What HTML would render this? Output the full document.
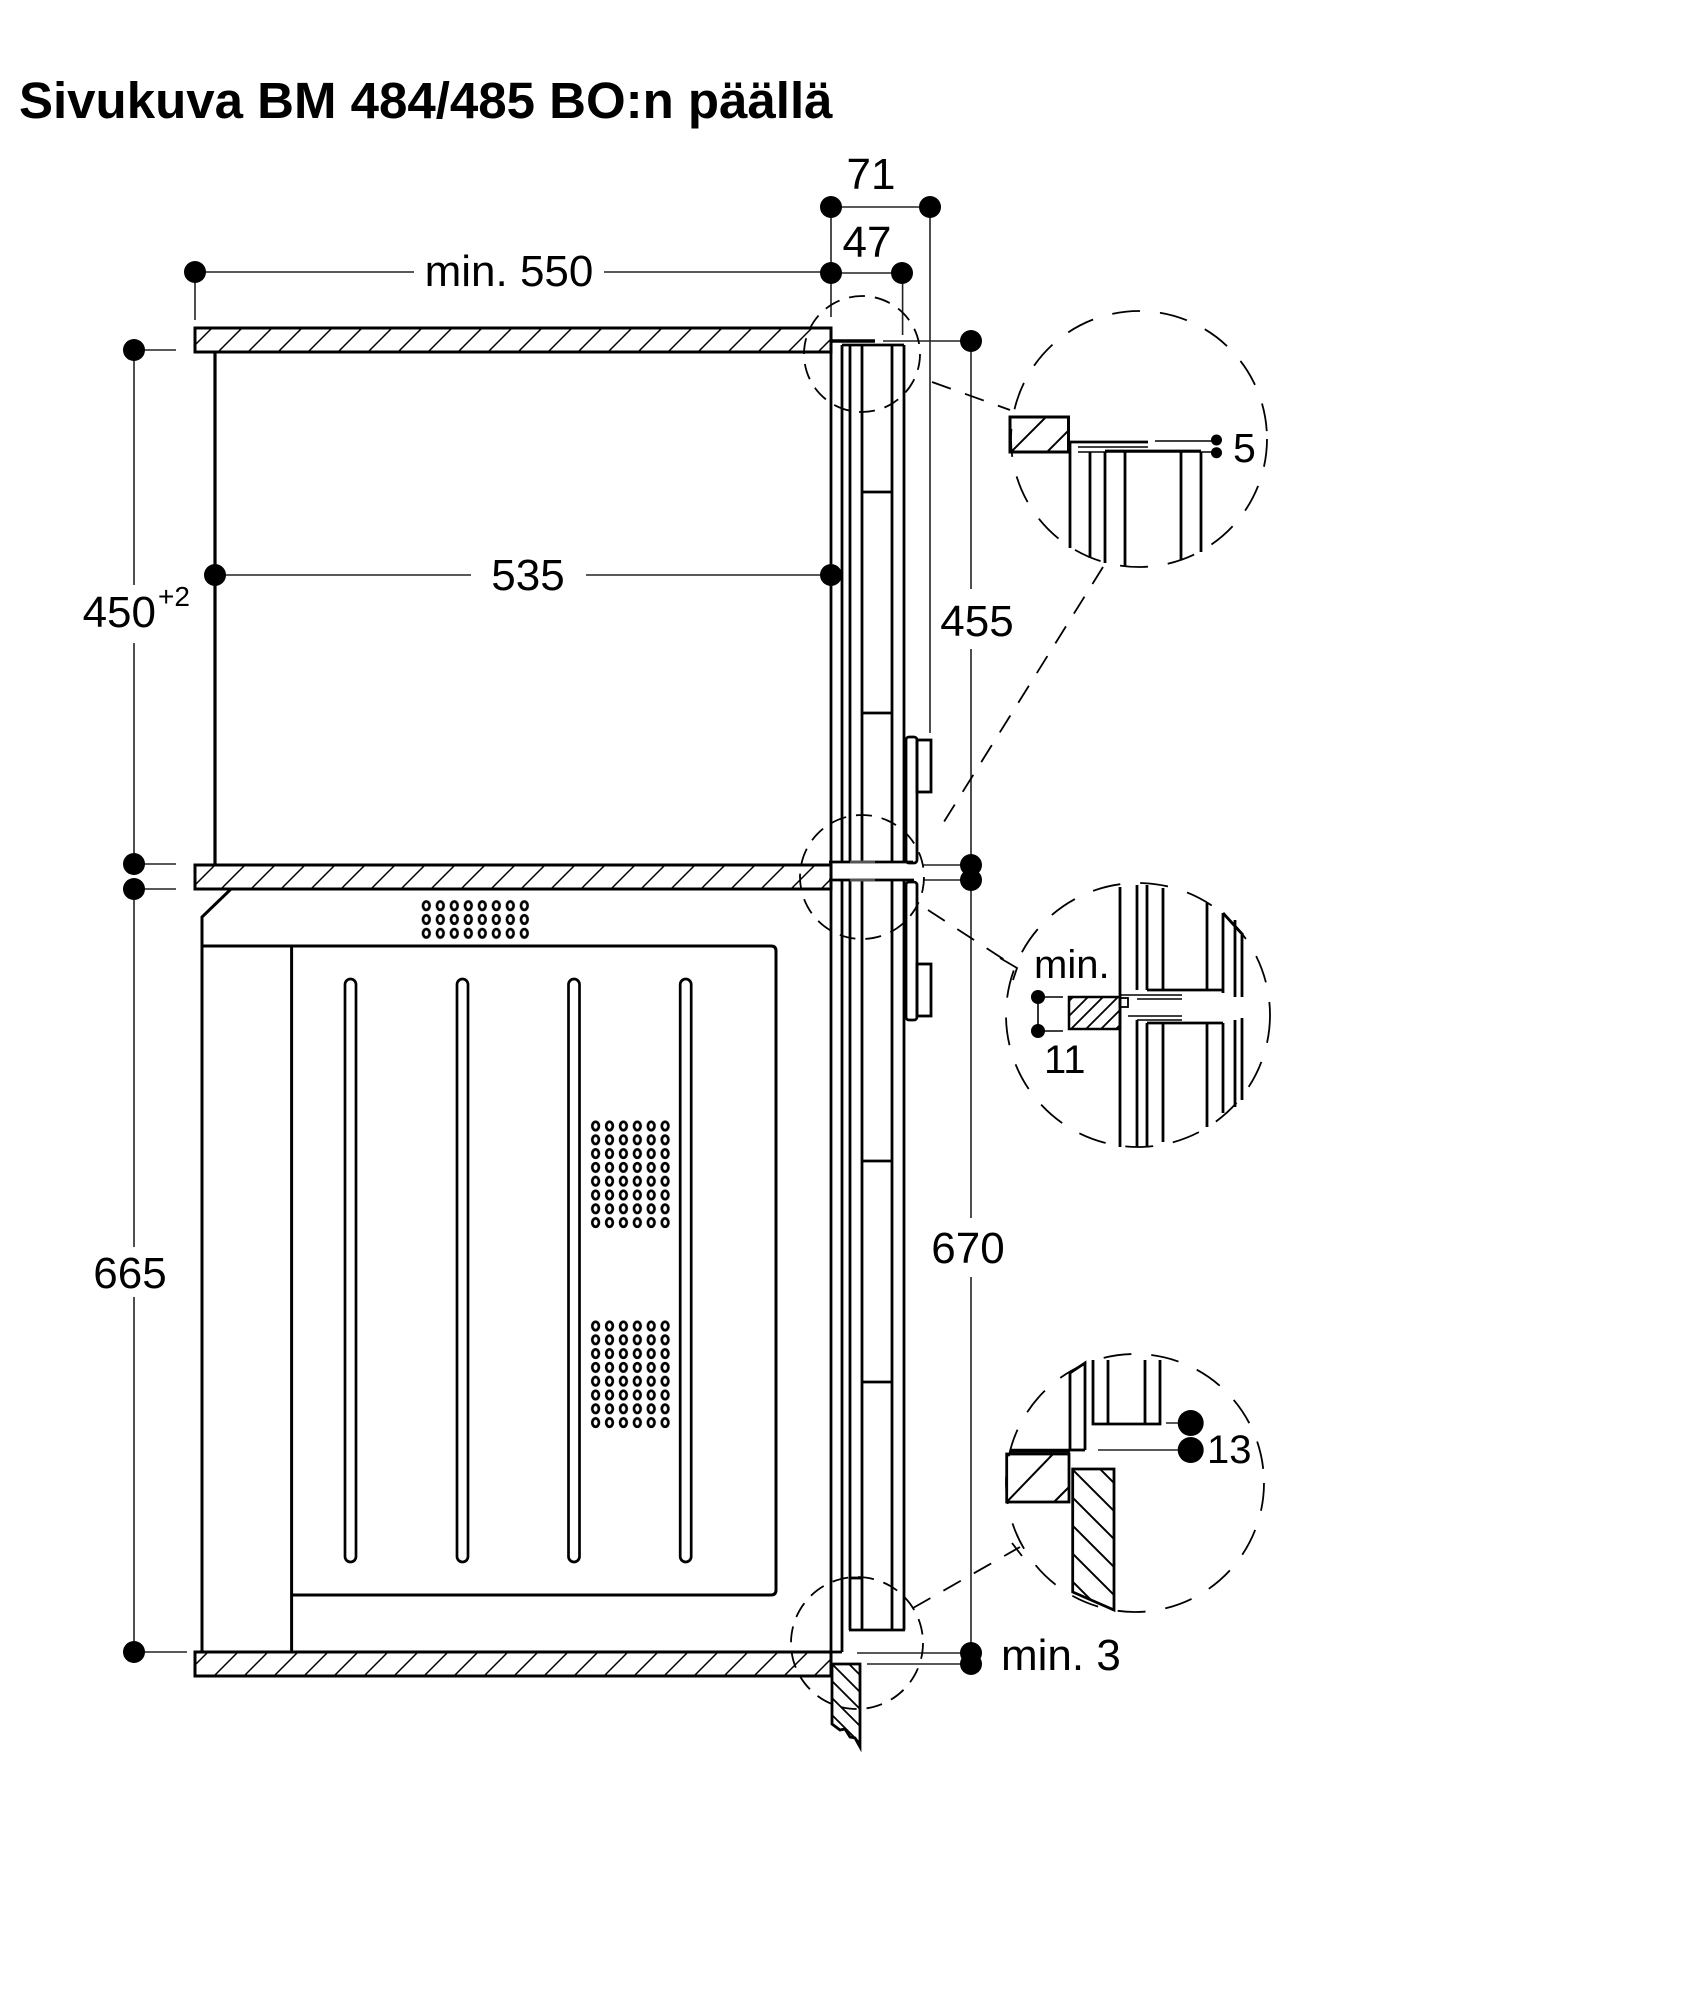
<!DOCTYPE html>
<html><head><meta charset="utf-8"><style>html,body{margin:0;padding:0;background:#fff;width:1684px;height:2000px;overflow:hidden}</style></head>
<body>
<svg xmlns="http://www.w3.org/2000/svg" width="1684" height="2000" viewBox="0 0 1684 2000" font-family="'Liberation Sans', Arial, sans-serif">
<defs>
<pattern id="hs" patternUnits="userSpaceOnUse" width="30" height="30"><path d="M0,30L30,0M-5,5L5,-5M25,35L35,25" stroke="#000" stroke-width="1.5"/></pattern>
<pattern id="hd1" patternUnits="userSpaceOnUse" width="36" height="36" x="1010" y="417"><path d="M0,36L36,0M-5,5L5,-5M31,41L41,31" stroke="#000" stroke-width="2"/></pattern>
<pattern id="hd2" patternUnits="userSpaceOnUse" width="15" height="15"><path d="M0,15L15,0M-3,3L3,-3M12,18L18,12" stroke="#000" stroke-width="1.8"/></pattern>
<pattern id="bk1" patternUnits="userSpaceOnUse" width="28" height="28" x="1072" y="1469"><path d="M0,0L28,28M-5,23L5,33M23,-5L33,5" stroke="#000" stroke-width="2"/></pattern>
<pattern id="bk2" patternUnits="userSpaceOnUse" width="17" height="17" x="832" y="1664"><path d="M0,0L17,17M-4,13L4,21M13,-4L21,4" stroke="#000" stroke-width="1.8"/></pattern>
<pattern id="vent" patternUnits="userSpaceOnUse" x="419.3" y="898.8" width="14" height="13.8"><ellipse cx="7" cy="6.9" rx="3.3" ry="4.2" fill="none" stroke="#000" stroke-width="2.7"/></pattern>
<pattern id="g1" patternUnits="userSpaceOnUse" x="588.65" y="1119.1" width="13.9" height="13.8"><ellipse cx="6.95" cy="6.9" rx="3.3" ry="4.2" fill="none" stroke="#000" stroke-width="2.7"/></pattern>
<pattern id="g2" patternUnits="userSpaceOnUse" x="588.65" y="1319.1" width="13.9" height="13.8"><ellipse cx="6.95" cy="6.9" rx="3.3" ry="4.2" fill="none" stroke="#000" stroke-width="2.7"/></pattern>
</defs>

<!-- Title -->
<text x="19" y="118" font-size="51" font-weight="bold" fill="#000">Sivukuva BM 484/485 BO:n päällä</text>

<!-- dimension lines (thin) -->
<g stroke="#222" stroke-width="1.6" fill="none">
  <line x1="831" y1="207" x2="930" y2="207"/>
  <line x1="831" y1="273" x2="902" y2="273"/>
  <line x1="195" y1="272" x2="414" y2="272"/>
  <line x1="604" y1="272" x2="831" y2="272"/>
  <line x1="195" y1="272" x2="195" y2="320"/>
  <line x1="831" y1="207" x2="831" y2="317"/>
  <line x1="902.6" y1="273" x2="902.6" y2="335"/>
  <line x1="930" y1="207" x2="930" y2="733"/>
  <line x1="215" y1="575" x2="471" y2="575"/>
  <line x1="586" y1="575" x2="831" y2="575"/>
  <line x1="134" y1="350" x2="134" y2="585"/>
  <line x1="134" y1="643" x2="134" y2="864"/>
  <line x1="134" y1="350" x2="176" y2="350"/>
  <line x1="134" y1="864" x2="176" y2="864"/>
  <line x1="134" y1="889" x2="176" y2="889"/>
  <line x1="134" y1="889" x2="134" y2="1247"/>
  <line x1="134" y1="1297" x2="134" y2="1652"/>
  <line x1="134" y1="1652" x2="187" y2="1652"/>
  <line x1="883" y1="341" x2="971" y2="341"/>
  <line x1="971" y1="341" x2="971" y2="589"/>
  <line x1="971" y1="649" x2="971" y2="864"/>
  <line x1="923" y1="865" x2="971" y2="865"/>
  <line x1="923" y1="880" x2="971" y2="880"/>
  <line x1="971" y1="880" x2="971" y2="1218"/>
  <line x1="971" y1="1277" x2="971" y2="1653"/>
  <line x1="857" y1="1653" x2="971" y2="1653"/>
  <line x1="867" y1="1664" x2="971" y2="1664"/>
</g>

<!-- dots -->
<g fill="#000">
  <circle cx="831" cy="207" r="11"/><circle cx="930" cy="207" r="11"/>
  <circle cx="831" cy="273" r="11"/><circle cx="902" cy="273" r="11"/>
  <circle cx="195" cy="272" r="11"/>
  <circle cx="215" cy="575" r="11"/><circle cx="831" cy="575" r="11"/>
  <circle cx="134" cy="350" r="11"/><circle cx="134" cy="864" r="11"/>
  <circle cx="134" cy="889" r="11"/><circle cx="134" cy="1652" r="11"/>
  <circle cx="971" cy="341" r="11"/>
  <circle cx="971" cy="865" r="11"/><circle cx="971" cy="880" r="11"/>
  <circle cx="971" cy="1653" r="11"/><circle cx="971" cy="1664" r="11"/>
</g>

<!-- labels -->
<g font-size="44" fill="#000">
  <text x="871" y="189" text-anchor="middle">71</text>
  <text x="867" y="257" text-anchor="middle">47</text>
  <text x="509" y="286" text-anchor="middle">min. 550</text>
  <text x="528" y="590" text-anchor="middle">535</text>
  <text x="156" y="627" text-anchor="end">450</text>
  <text x="158" y="606" font-size="28">+2</text>
  <text x="977" y="636" text-anchor="middle">455</text>
  <text x="130" y="1288" text-anchor="middle">665</text>
  <text x="968" y="1263" text-anchor="middle">670</text>
  <text x="1001" y="1670">min. 3</text>
</g>

<!-- shelves -->
<g stroke="#000" stroke-width="3" fill="url(#hs)">
  <rect x="195" y="328" width="636" height="24"/>
  <rect x="195" y="865" width="636" height="24"/>
  <rect x="195" y="1652" width="636" height="24"/>
</g>

<!-- cabinet wall -->
<line x1="215" y1="352" x2="215" y2="865" stroke="#000" stroke-width="3.2"/>

<!-- oven -->
<g stroke="#000" stroke-width="3" fill="none">
  <polyline points="231,889 202,917 202,1652"/>
  <path d="M202,946 H771 Q776,946 776,951 V1590 Q776,1595 771,1595 H291.6"/>
  <line x1="291.6" y1="946" x2="291.6" y2="1652"/>
</g>
<rect x="419.3" y="898.8" width="112" height="41.4" fill="url(#vent)"/>
<rect x="588.65" y="1119.1" width="83.4" height="110.4" fill="url(#g1)"/>
<rect x="588.65" y="1319.1" width="83.4" height="110.4" fill="url(#g2)"/>
<g stroke="#000" stroke-width="2.7" fill="none">
  <rect x="345" y="979" width="11" height="583" rx="5.5"/>
  <rect x="457" y="979" width="11" height="583" rx="5.5"/>
  <rect x="568.5" y="979" width="11" height="583" rx="5.5"/>
  <rect x="680.2" y="979" width="11" height="583" rx="5.5"/>
</g>

<!-- front column -->
<g stroke="#000" stroke-width="2.8" fill="none">
  <line x1="831" y1="328" x2="831" y2="1676"/>
  <line x1="831" y1="341" x2="875" y2="341" stroke-width="3.5"/>
  <!-- upper panel -->
  <line x1="842" y1="345" x2="904" y2="345"/>
  <line x1="842" y1="345" x2="842" y2="862"/>
  <line x1="850" y1="345" x2="850" y2="862"/>
  <line x1="862" y1="345" x2="862" y2="862"/>
  <line x1="892" y1="345" x2="892" y2="862"/>
  <line x1="904" y1="345" x2="904" y2="862"/>
  <line x1="862" y1="492" x2="892" y2="492"/>
  <line x1="862" y1="713" x2="892" y2="713"/>
  <line x1="829" y1="862" x2="913" y2="862"/>
  <!-- lower panel -->
  <line x1="829" y1="880" x2="914" y2="880"/>
  <line x1="842" y1="880" x2="842" y2="1652"/>
  <line x1="850" y1="880" x2="850" y2="1630"/>
  <line x1="862" y1="880" x2="862" y2="1630"/>
  <line x1="892" y1="880" x2="892" y2="1630"/>
  <line x1="904" y1="880" x2="904" y2="1630"/>
  <line x1="849" y1="1630" x2="905" y2="1630"/>
  <line x1="862" y1="1161" x2="892" y2="1161"/>
  <line x1="862" y1="1382" x2="892" y2="1382"/>
  <line x1="849" y1="1578" x2="862" y2="1578"/>
  <line x1="831" y1="1652" x2="842" y2="1652"/>
  <!-- knobs -->
  <rect x="906" y="737" width="11" height="126" rx="3"/>
  <rect x="917" y="740" width="14" height="52"/>
  <rect x="906" y="882" width="11" height="138" rx="3"/>
  <rect x="917" y="964" width="14" height="52"/>
</g>
<line x1="850" y1="862" x2="875" y2="862" stroke="#555" stroke-width="3"/>
<line x1="850" y1="880" x2="875" y2="880" stroke="#555" stroke-width="3"/>

<!-- plinth -->
<polygon points="832,1664 860,1664 860,1747 855,1738 850,1737 845,1729 840,1730 832,1724" fill="url(#bk2)" stroke="#000" stroke-width="2.8"/>

<!-- dashed circles and leaders -->
<g stroke="#000" stroke-width="1.8" fill="none">
  <circle cx="862" cy="354" r="58" stroke-dasharray="16 10"/>
  <circle cx="862" cy="877" r="62" stroke-dasharray="16 10"/>
  <circle cx="857" cy="1643" r="66" stroke-dasharray="16 10"/>
  <circle cx="1139" cy="439" r="128" stroke-dasharray="28 20"/>
  <circle cx="1138" cy="1015" r="132" stroke-dasharray="28 20"/>
  <circle cx="1135" cy="1483" r="129" stroke-dasharray="28 20"/>
  <line x1="932" y1="382" x2="1010" y2="410" stroke-dasharray="20 15"/>
  <line x1="1103" y1="567" x2="937" y2="833" stroke-dasharray="20 15"/>
  <line x1="928" y1="910" x2="1017" y2="968" stroke-dasharray="20 15"/>
  <polyline points="1000,958 1017,968 1013,980"/>
  <line x1="913" y1="1608" x2="1020" y2="1547" stroke-dasharray="20 15"/>
  <line x1="1012" y1="1543" x2="1022" y2="1556"/>
</g>

<!-- top detail -->
<rect x="1010" y="417" width="58.5" height="35" fill="url(#hd1)" stroke="#000" stroke-width="3"/>
<g stroke="#000" stroke-width="2.8" fill="none">
  <line x1="1068" y1="442" x2="1148" y2="442"/>
  <line x1="1078" y1="447" x2="1148" y2="447" stroke-width="1.5"/>
  <line x1="1155" y1="441" x2="1216" y2="441" stroke-width="1.6"/>
  <line x1="1078" y1="452" x2="1216" y2="452" stroke-width="1.6"/>
  <line x1="1105" y1="451" x2="1201" y2="451"/>
  <line x1="1070" y1="442" x2="1070" y2="548"/>
  <line x1="1090" y1="452" x2="1090" y2="558"/>
  <line x1="1105" y1="452" x2="1105" y2="563"/>
  <line x1="1125" y1="452" x2="1125" y2="567"/>
  <line x1="1181" y1="452" x2="1181" y2="560"/>
  <line x1="1201" y1="452" x2="1201" y2="552"/>
</g>
<circle cx="1216.5" cy="440" r="5.5"/><circle cx="1216.5" cy="452.7" r="5.5"/>
<text x="1233" y="462" font-size="41" fill="#000">5</text>

<!-- middle detail -->
<text x="1034" y="978" font-size="40" fill="#000">min.</text>
<text x="1044" y="1073" font-size="40" fill="#000">11</text>
<g stroke="#000" stroke-width="1.6"><line x1="1038" y1="997" x2="1038" y2="1031"/><line x1="1038" y1="997" x2="1063" y2="997"/><line x1="1038" y1="1031" x2="1063" y2="1031"/></g>
<circle cx="1038" cy="997" r="7"/><circle cx="1038" cy="1031" r="7"/>
<rect x="1069" y="997" width="51" height="32" fill="url(#hd2)" stroke="#000" stroke-width="2.5"/>
<g stroke="#000" stroke-width="2.8" fill="none">
  <line x1="1120" y1="887" x2="1120" y2="1147"/>
  <line x1="1137" y1="885" x2="1137" y2="990"/>
  <line x1="1147" y1="885" x2="1147" y2="990"/>
  <line x1="1163" y1="888" x2="1163" y2="990"/>
  <line x1="1207" y1="903" x2="1207" y2="990"/>
  <line x1="1223" y1="913" x2="1223" y2="993"/>
  <line x1="1235" y1="920" x2="1235" y2="997"/>
  <line x1="1242" y1="935" x2="1242" y2="997"/>
  <line x1="1223" y1="913" x2="1243" y2="935"/>
  <line x1="1147" y1="990" x2="1223" y2="990"/>
  <line x1="1137" y1="1020" x2="1137" y2="1147"/>
  <line x1="1147" y1="1023" x2="1147" y2="1147"/>
  <line x1="1163" y1="1023" x2="1163" y2="1142"/>
  <line x1="1207" y1="1023" x2="1207" y2="1127"/>
  <line x1="1223" y1="1023" x2="1223" y2="1113"/>
  <line x1="1235" y1="1020" x2="1235" y2="1107"/>
  <line x1="1242" y1="1018" x2="1242" y2="1100"/>
  <line x1="1147" y1="1023" x2="1223" y2="1023"/>
  <rect x="1120" y="998" width="8" height="9" stroke-width="1.8"/>
</g>
<g stroke="#000" stroke-width="1.5">
  <line x1="1120" y1="995" x2="1182" y2="995"/><line x1="1137" y1="999" x2="1182" y2="999"/>
  <line x1="1128" y1="1016" x2="1182" y2="1016"/><line x1="1137" y1="1020" x2="1182" y2="1020"/>
</g>

<!-- bottom detail -->
<g stroke="#000" stroke-width="2.8" fill="none">
  <polyline points="1070,1450 1070,1373 1085,1363 1085,1450"/>
  <line x1="1070" y1="1450" x2="1085" y2="1450"/>
  <polyline points="1093,1360 1093,1424 1160,1424 1160,1360"/>
  <line x1="1108" y1="1360" x2="1108" y2="1424"/>
  <line x1="1145" y1="1360" x2="1145" y2="1424"/>
  <line x1="1010" y1="1450.7" x2="1070" y2="1450.7" stroke-width="4"/>
  <rect x="1006.7" y="1454" width="62.3" height="48"/>
  <line x1="1006.7" y1="1502" x2="1053" y2="1454" stroke-width="2"/>
  <line x1="1054" y1="1502" x2="1069" y2="1487" stroke-width="2"/>
</g>
<polygon points="1072.7,1469 1114,1469 1114,1610 1072.7,1592" fill="url(#bk1)" stroke="#000" stroke-width="2.8"/>
<g stroke="#222" stroke-width="1.6"><line x1="1166" y1="1423" x2="1190" y2="1423"/><line x1="1098" y1="1450" x2="1190" y2="1450"/></g>
<circle cx="1190.7" cy="1423" r="13"/><circle cx="1190.7" cy="1450" r="13"/>
<text x="1207" y="1463" font-size="40" fill="#000">13</text>
</svg>
</body></html>
